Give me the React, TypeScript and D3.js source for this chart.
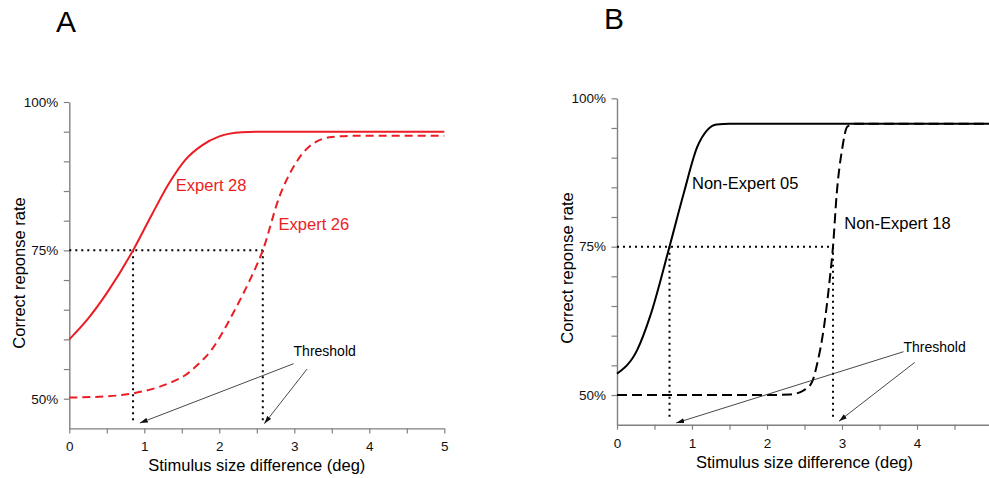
import React, { useRef, useEffect } from 'react';
import * as d3 from 'd3';

const FONT = '"Liberation Sans", Arial, sans-serif';
const RED = '#ec1c24';
const AXIS_GREY = '#808080';

// ticks every 0.5 deg / 5 %, labels only on some of them
const xTicks = [0, 0.5, 1, 1.5, 2, 2.5, 3, 3.5, 4, 4.5, 5];
const xTickLabels = [0, 1, 2, 3, 4, 5];
const yTicks = [50, 55, 60, 65, 70, 75, 80, 85, 90, 95, 100];
const yTickLabels = [50, 75, 100];

// psychometric curves: [deg, % correct]
const expert28: [number, number][] = [
  [0, 60], [0.25, 63.5], [0.5, 67.8], [0.85, 75], [1.1, 81], [1.33, 86.3],
  [1.55, 90.3], [1.77, 92.7], [2.0, 94.2], [2.3, 94.9], [2.6, 95], [5, 95]
];
const expert26: [number, number][] = [
  [0, 50.2], [0.5, 50.4], [0.85, 50.9], [1.0, 51.3], [1.2, 52], [1.4, 53],
  [1.55, 54], [1.7, 55.6], [1.9, 58.3], [2.05, 61.3], [2.2, 64.8], [2.4, 69.8],
  [2.58, 75], [2.8, 84], [3.0, 89.3], [3.2, 92.5], [3.5, 94.1], [3.8, 94.3], [5, 94.3]
];
const nonExpert05: [number, number][] = [
  [0, 53.6], [0.27, 57.6], [0.44, 63.2], [0.7, 75], [0.89, 84], [1.07, 91.8],
  [1.2, 94.6], [1.33, 95.6], [1.5, 95.7], [5, 95.7]
];
const nonExpert18: [number, number][] = [
  [0, 50], [2.0, 50], [2.31, 50.1], [2.49, 50.8], [2.6, 52.2], [2.67, 55.3],
  [2.76, 61.5], [2.84, 69.9], [2.88, 75], [2.93, 84], [3.0, 91.3], [3.07, 95.2],
  [3.16, 95.7], [5, 95.7]
];

// 75% thresholds (deg)
const thresholdsA = [0.85, 2.58];
const thresholdsB = [0.7, 2.88];

// annotation arrows: [x1, y1, x2, y2] in data units
const arrowsA = [[2.99, 55.9, 0.94, 45.9], [3.17, 55.0, 2.6, 45.8]];
const arrowsB = [[3.82, 57.3, 0.79, 45.3], [3.97, 55.5, 2.96, 45.6]];

const panels = [
  {
    title: 'A', titleX: 56, titleY: 32,
    xRange: [69.3, 444.3], yRange: [428.4, 102],
    yLabelX: 25, yLabelY: 273, xLabelY: 471,
    color: RED,
    series: [
      { data: expert28, dash: null, label: 'Expert 28', lx: 1.42, ly: 85.0 },
      { data: expert26, dash: '8,5', label: 'Expert 26', lx: 2.79, ly: 78.4 }
    ],
    thresholds: thresholdsA, arrows: arrowsA, thrText: [2.99, 57.2]
  },
  {
    title: 'B', titleX: 604, titleY: 29,
    xRange: [617, 992], yRange: [424.7, 98.3],
    yLabelX: 573, yLabelY: 268, xLabelY: 468,
    color: '#000',
    series: [
      { data: nonExpert05, dash: null, label: 'Non-Expert 05', lx: 1.0, ly: 84.8 },
      { data: nonExpert18, dash: '10,5', label: 'Non-Expert 18', lx: 3.03, ly: 78.0 }
    ],
    thresholds: thresholdsB, arrows: arrowsB, thrText: [3.82, 57.3]
  }
];

const App = () => {
  const ref = useRef<SVGSVGElement>(null);

  useEffect(() => {
    const svg = d3.select(ref.current);
    svg.selectAll('*').remove();

    svg.append('defs').append('marker')
      .attr('id', 'arrowhead')
      .attr('viewBox', '0 0 8 6')
      .attr('refX', 8).attr('refY', 3)
      .attr('markerWidth', 8).attr('markerHeight', 6)
      .attr('markerUnits', 'userSpaceOnUse')
      .attr('orient', 'auto')
      .append('path')
      .attr('d', 'M0,0.5 L8,3 L0,5.5 Z')
      .attr('fill', '#111');

    panels.forEach(p => {
      const x = d3.scaleLinear().domain([0, 5]).range(p.xRange);
      const y = d3.scaleLinear().domain([45, 100]).range(p.yRange);
      const g = svg.append('g');

      // title
      g.append('text')
        .attr('x', p.titleX).attr('y', p.titleY)
        .style('font-family', FONT).style('font-size', '30px')
        .text(p.title);

      // X-axis
      const xa = g.append('g')
        .attr('transform', `translate(0, ${p.yRange[0]})`)
        .call(d3.axisBottom(x)
          .tickValues(xTicks).tickSize(5).tickSizeOuter(0).tickPadding(8.5)
          .tickFormat(d => (xTickLabels.includes(+d) ? String(d) : '')));
      // Y-axis
      const ya = g.append('g')
        .attr('transform', `translate(${p.xRange[0]}, 0)`)
        .call(d3.axisLeft(y)
          .tickValues(yTicks).tickSize(5.5).tickSizeOuter(0).tickPadding(5.5)
          .tickFormat(d => (yTickLabels.includes(+d) ? `${d}%` : '')));

      [xa, ya].forEach(a => {
        a.attr('font-family', FONT).attr('font-size', 13.5);
        a.select('.domain').attr('stroke', AXIS_GREY).attr('stroke-width', 1.4);
        a.selectAll('.tick line').attr('stroke', AXIS_GREY).attr('stroke-width', 1.2);
        a.selectAll('.tick text').attr('fill', '#111');
      });

      // axis labels
      g.append('text')
        .attr('x', (p.xRange[0] + p.xRange[1]) / 2).attr('y', p.xLabelY)
        .attr('text-anchor', 'middle')
        .style('font-family', FONT).style('font-size', '16.5px')
        .text('Stimulus size difference (deg)');
      g.append('text')
        .attr('transform', `translate(${p.yLabelX}, ${p.yLabelY}) rotate(-90)`)
        .attr('text-anchor', 'middle')
        .style('font-family', FONT).style('font-size', '16.5px')
        .text('Correct reponse rate');

      // 75% guide lines
      g.append('line')
        .attr('x1', x(0)).attr('x2', x(p.thresholds[1]))
        .attr('y1', y(75)).attr('y2', y(75))
        .attr('stroke', '#000').attr('stroke-width', 2)
        .attr('stroke-dasharray', '2,4');
      g.selectAll('.thr')
        .data(p.thresholds)
        .join('line')
        .attr('x1', d => x(d)).attr('x2', d => x(d))
        .attr('y1', y(75)).attr('y2', y(45.8))
        .attr('stroke', '#000').attr('stroke-width', 2)
        .attr('stroke-dasharray', '2,4');

      // curves
      const line = d3.line<[number, number]>()
        .x(d => x(d[0])).y(d => y(d[1]))
        .curve(d3.curveMonotoneX);

      p.series.forEach(s => {
        g.append('path')
          .attr('d', line(s.data))
          .attr('fill', 'none')
          .attr('stroke', p.color)
          .attr('stroke-width', 2)
          .attr('stroke-dasharray', s.dash);
        g.append('text')
          .attr('x', x(s.lx)).attr('y', y(s.ly))
          .attr('fill', p.color)
          .style('font-family', FONT).style('font-size', '16.5px')
          .text(s.label);
      });

      // threshold annotation
      g.append('text')
        .attr('x', x(p.thrText[0])).attr('y', y(p.thrText[1]))
        .style('font-family', FONT).style('font-size', '14px')
        .text('Threshold');
      g.selectAll('.arrow')
        .data(p.arrows)
        .join('line')
        .attr('x1', d => x(d[0])).attr('y1', d => y(d[1]))
        .attr('x2', d => x(d[2])).attr('y2', d => y(d[3]))
        .attr('stroke', '#333').attr('stroke-width', 0.9)
        .attr('marker-end', 'url(#arrowhead)');
    });
  }, []);

  return (
    <svg
      ref={ref}
      width={989}
      height={478}
      style={{ position: 'absolute', left: 0, top: 0, background: '#fff' }}
    />
  );
};

export default App;
